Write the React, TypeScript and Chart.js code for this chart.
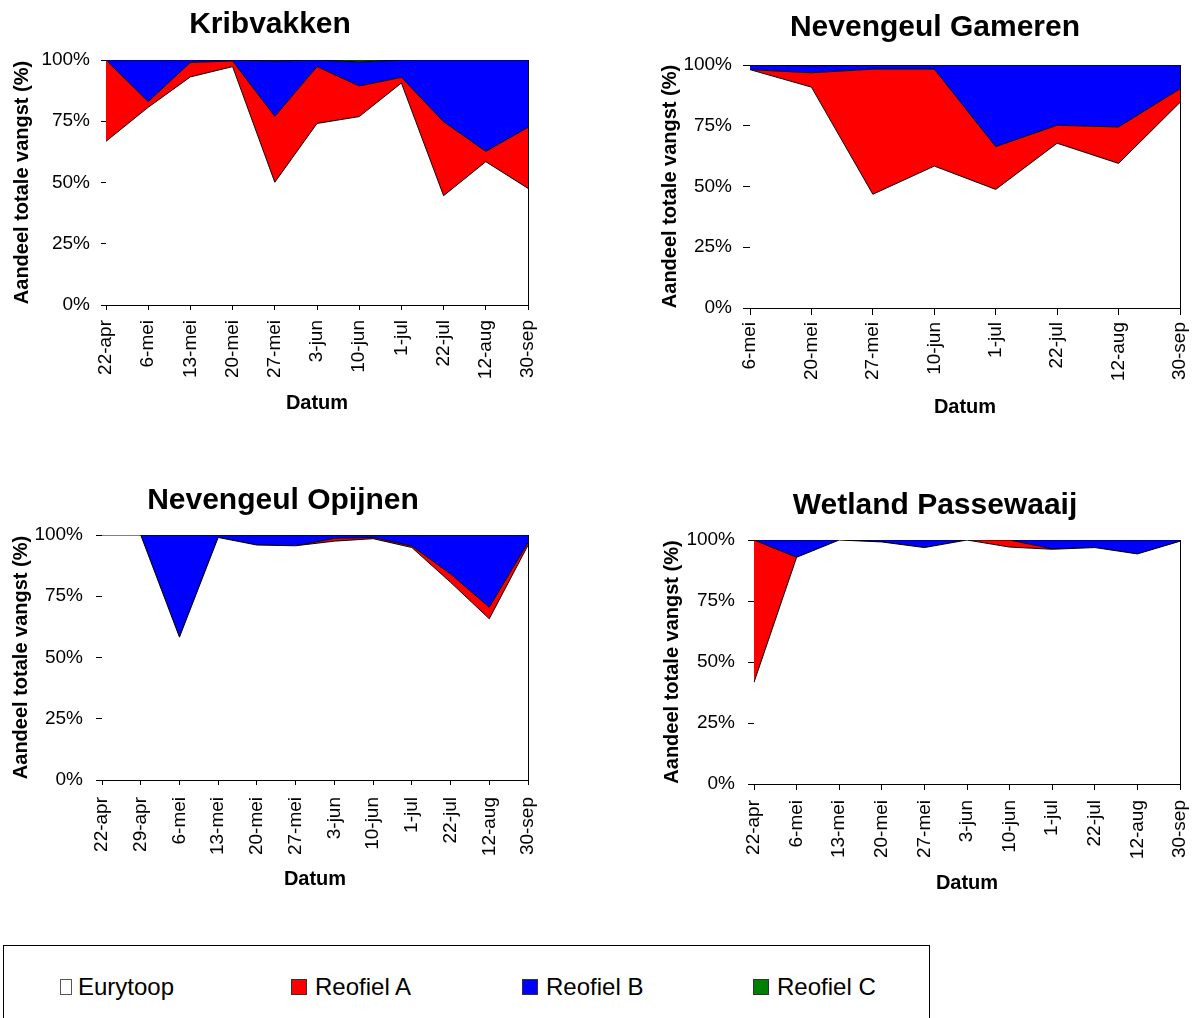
import React, { useEffect, useRef } from 'react';
import { Chart, registerables } from 'chart.js';

Chart.register(...registerables);

const FONT = '"Liberation Sans", Arial, sans-serif';
Chart.defaults.font.family = FONT;
Chart.defaults.color = '#000';

// ---- data ----
const seriesNames = ['Eurytoop', 'Reofiel A', 'Reofiel B', 'Reofiel C'];
const seriesColors = ['#FFFFFF', '#FF0000', '#0000FF', '#008000'];
const yAxisTitle = 'Aandeel totale vangst (%)';
const xAxisTitle = 'Datum';

const kribTitle = 'Kribvakken';
const kribLabels = ['22-apr', '6-mei', '13-mei', '20-mei', '27-mei', '3-jun', '10-jun', '1-jul', '22-jul', '12-aug', '30-sep'];
const kribEurytoop = [66.8, 80.7, 93.1, 97.3, 50.1, 74.1, 76.9, 90.6, 44.6, 58.5, 47.6];
const kribReofielA = [33.2, 2.3, 5.9, 2.3, 26.9, 23.2, 12.5, 2.3, 30.2, 4.2, 24.9];
const kribReofielB = [0, 17.0, 1.0, 0.4, 22.6, 2.7, 9.8, 7.1, 25.2, 37.3, 27.5];
const kribReofielC = [0, 0, 0, 0, 0.4, 0, 0.8, 0, 0, 0, 0];

const gamTitle = 'Nevengeul Gameren';
const gamLabels = ['6-mei', '20-mei', '27-mei', '10-jun', '1-jul', '22-jul', '12-aug', '30-sep'];
const gamEurytoop = [98.1, 90.9, 46.8, 58.4, 48.8, 67.8, 59.5, 84.6];
const gamReofielA = [0, 5.9, 51.5, 39.9, 17.6, 7.4, 15.0, 5.6];
const gamReofielB = [1.9, 2.9, 1.7, 1.7, 33.6, 24.8, 25.5, 9.8];
const gamReofielC = [0, 0.3, 0, 0, 0, 0, 0, 0];

const opiTitle = 'Nevengeul Opijnen';
const opiLabels = ['22-apr', '29-apr', '6-mei', '13-mei', '20-mei', '27-mei', '3-jun', '10-jun', '1-jul', '22-jul', '12-aug', '30-sep'];
const opiEurytoop = [100, 100, 58.3, 99.0, 95.9, 95.6, 97.5, 98.5, 94.9, 80.7, 65.8, 95.8];
const opiReofielA = [0, 0, 0, 0, 0, 0, 1.1, 0.5, 0.6, 3.4, 4.7, 1.1];
const opiReofielB = [0, 0, 41.7, 1.0, 4.1, 4.4, 1.4, 1.0, 4.5, 15.9, 29.5, 3.1];
const opiReofielC = [0, 0, 0, 0, 0, 0, 0, 0, 0, 0, 0, 0];

const pasTitle = 'Wetland Passewaaij';
const pasLabels = ['22-apr', '6-mei', '13-mei', '20-mei', '27-mei', '3-jun', '10-jun', '1-jul', '22-jul', '12-aug', '30-sep'];
const pasEurytoop = [41.7, 92.9, 100, 99.2, 96.9, 100, 97.1, 96.2, 96.9, 94.3, 99.5];
const pasReofielA = [58.3, 0, 0, 0, 0, 0, 2.9, 0.2, 0, 0, 0];
const pasReofielB = [0, 7.1, 0, 0.8, 3.1, 0, 0, 3.6, 3.1, 5.7, 0.5];
const pasReofielC = [0, 0, 0, 0, 0, 0, 0, 0, 0, 0, 0];

// ---- layout (positions / sizes) ----
type Layout = {
  left: number; top: number; width: number; height: number;
  yAxisWidth: number; rightWidth: number; xAxisHeight: number;
  titleTop: number; titleBottom: number;
  yTitlePad: number; xTitlePad: number;
  yTickLen: number; yTickPad: number; xTickLen: number; xTickPad: number;
};

const layout1: Layout = { left: 0, top: 0, width: 540, height: 420, yAxisWidth: 106, rightWidth: 12, xAxisHeight: 115, titleTop: 7, titleBottom: 17, yTitlePad: 10, xTitlePad: 5, yTickLen: 5, yTickPad: 11, xTickLen: 5, xTickPad: 10 };
const layout2: Layout = { left: 655, top: 0, width: 560, height: 425, yAxisWidth: 95, rightWidth: 35, xAxisHeight: 117, titleTop: 10, titleBottom: 19, yTitlePad: 3, xTitlePad: 6, yTickLen: 7, yTickPad: 11, xTickLen: 7, xTickPad: 7 };
const layout3: Layout = { left: 0, top: 470, width: 566, height: 425, yAxisWidth: 102, rightWidth: 38, xAxisHeight: 115, titleTop: 13, titleBottom: 16, yTitlePad: 9, xTitlePad: 4, yTickLen: 6, yTickPad: 13, xTickLen: 5, xTickPad: 12 };
const layout4: Layout = { left: 655, top: 470, width: 560, height: 425, yAxisWidth: 99, rightWidth: 35, xAxisHeight: 111, titleTop: 18, titleBottom: 16, yTitlePad: 5, xTitlePad: 0, yTickLen: 6, yTickPad: 13, xTickLen: 6, xTickPad: 10 };

function AreaChart({ title, labels, series, L }: { title: string; labels: string[]; series: number[][]; L: Layout }) {
  const ref = useRef<HTMLCanvasElement>(null);
  useEffect(() => {
    if (!ref.current) return;
    const chart = new Chart(ref.current, {
      type: 'line',
      data: {
        labels,
        datasets: series.map((d, i) => ({
          label: seriesNames[i],
          data: d,
          backgroundColor: seriesColors[i],
          borderColor: '#000',
          borderWidth: 1,
          fill: i === 0 ? 'origin' : '-1',
          pointRadius: 0,
          pointHoverRadius: 0,
          tension: 0,
        })),
      },
      options: {
        animation: false,
        responsive: false,
        maintainAspectRatio: false,
        devicePixelRatio: 1,
        events: [],
        layout: { padding: 0 },
        plugins: {
          legend: { display: false },
          tooltip: { enabled: false },
          title: {
            display: true,
            text: title,
            color: '#000',
            font: { size: 30, weight: 'bold', family: FONT },
            padding: { top: L.titleTop, bottom: L.titleBottom },
          },
        },
        scales: {
          x: {
            type: 'category',
            offset: false,
            grid: { display: true, drawOnChartArea: false, drawTicks: true, tickLength: L.xTickLen, color: '#000', tickColor: '#000' },
            border: { display: true, color: '#000', width: 1 },
            ticks: { autoSkip: false, minRotation: 90, maxRotation: 90, padding: L.xTickPad, color: '#000', font: { size: 19, family: FONT } },
            title: { display: true, text: xAxisTitle, color: '#000', font: { size: 20, weight: 'bold', family: FONT }, padding: { top: 0, bottom: L.xTitlePad } },
            afterFit: (s: any) => { s.height = L.xAxisHeight; s.paddingLeft = 0; s.paddingRight = 0; },
          },
          y: {
            stacked: true,
            min: 0,
            max: 100,
            grid: { display: true, drawOnChartArea: false, drawTicks: true, tickLength: L.yTickLen, color: '#000', tickColor: '#000' },
            border: { display: true, color: '#000', width: 1 },
            ticks: { stepSize: 25, padding: L.yTickPad, color: '#000', font: { size: 19, family: FONT }, callback: (v: any) => v + '%' },
            title: { display: true, text: yAxisTitle, color: '#000', font: { size: 20, weight: 'bold', family: FONT }, padding: { top: L.yTitlePad, bottom: 0 } },
            afterFit: (s: any) => { s.width = L.yAxisWidth; s.paddingTop = 0; s.paddingBottom = 0; },
          },
          yRight: {
            position: 'right',
            display: true,
            grid: { display: false, drawTicks: false },
            ticks: { display: false },
            border: { display: true, color: '#000', width: 1 },
            afterFit: (s: any) => { s.width = L.rightWidth; s.paddingTop = 0; s.paddingBottom = 0; },
          },
        },
      } as any,
    });
    return () => chart.destroy();
  }, []);
  return (
    <div style={{ position: 'absolute', left: L.left, top: L.top, width: L.width, height: L.height }}>
      <canvas ref={ref} width={L.width} height={L.height} style={{ display: 'block', width: L.width, height: L.height }} />
    </div>
  );
}

// legend placement (relative to the legend box)
const legendSwatchX = [56, 287, 518, 749];
const legendSwatchW = [12, 16, 16, 16];
const legendTextX = [74, 311, 542, 773];

function Legend() {
  return (
    <div style={{ position: 'absolute', left: 3, top: 945, width: 927, height: 110, border: '1px solid #000', boxSizing: 'border-box', background: '#fff', fontFamily: FONT }}>
      {seriesNames.map((n, i) => (
        <React.Fragment key={n}>
          <div style={{ position: 'absolute', left: legendSwatchX[i], top: 33, width: legendSwatchW[i], height: 16, boxSizing: 'border-box', background: seriesColors[i], border: i === 0 ? '1px solid #555' : '1px solid #333' }} />
          <div style={{ position: 'absolute', left: legendTextX[i], top: 27, fontSize: 24, lineHeight: '28px', color: '#000', whiteSpace: 'nowrap' }}>{n}</div>
        </React.Fragment>
      ))}
    </div>
  );
}

export default function App() {
  return (
    <div style={{ position: 'absolute', left: 0, top: 0, width: 1196, height: 1018, overflow: 'hidden', background: '#fff' }}>
      <AreaChart title={kribTitle} labels={kribLabels} series={[kribEurytoop, kribReofielA, kribReofielB, kribReofielC]} L={layout1} />
      <AreaChart title={gamTitle} labels={gamLabels} series={[gamEurytoop, gamReofielA, gamReofielB, gamReofielC]} L={layout2} />
      <AreaChart title={opiTitle} labels={opiLabels} series={[opiEurytoop, opiReofielA, opiReofielB, opiReofielC]} L={layout3} />
      <AreaChart title={pasTitle} labels={pasLabels} series={[pasEurytoop, pasReofielA, pasReofielB, pasReofielC]} L={layout4} />
      <Legend />
    </div>
  );
}
